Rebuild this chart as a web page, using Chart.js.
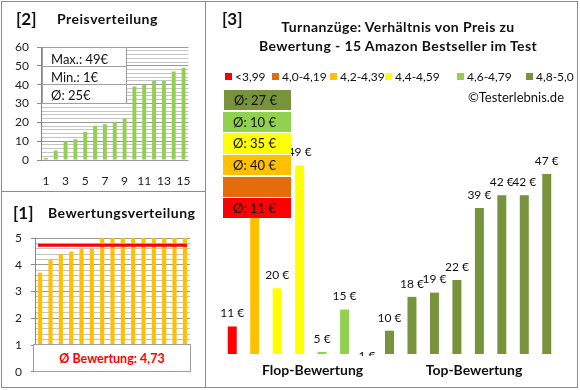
<!DOCTYPE html>
<html><head><meta charset="utf-8">
<script src="https://cdn.jsdelivr.net/npm/chart.js@4/dist/chart.umd.min.js"></script>
<style>
html,body{margin:0;padding:0;background:#fff;width:580px;height:390px;overflow:hidden;font-family:Lato,"Open Sans",sans-serif;color:#111}
.abs{position:absolute}
canvas{position:absolute}
.line{position:absolute;background:#8c8c8c}
.t{position:absolute;white-space:nowrap}
.box{position:absolute;background:#fff;border:1px solid #a0a0a0;box-sizing:border-box}
.avg{position:absolute;box-sizing:border-box;font-size:13px;line-height:1;display:flex;align-items:center;padding-left:10px;color:#111}
.leg{position:absolute;font-size:12px;display:flex;align-items:center;white-space:nowrap}
.leg i{display:inline-block;width:7px;height:7px;margin-right:3px}
.h{font-size:14px;font-weight:700;letter-spacing:0.5px}
</style></head>
<body>
<script>
// ---------- DATA ----------
const priceLabels = ['1','2','3','4','5','6','7','8','9','10','11','12','13','14','15'];
const pricesSorted = [1,5,10,11,15,18,19,20,22,39,40,42,42,47,49];
const ratingsSorted = [3.7,4.2,4.4,4.5,4.6,4.6,5,5,5,5,5,5,5,5,5];
const productPrices = [11,40,20,49,5,15,1,10,18,19,22,39,42,42,47];
const productRatings = [3.7,4.2,4.4,4.5,4.6,4.6,5,5,5,5,5,5,5,5,5];
const classLabels = ['<3,99','4,0-4,19','4,2-4,39','4,4-4,59','4,6-4,79','4,8-5,0'];
const classMins = [0,4.0,4.2,4.4,4.6,4.8];
const classColors = ['#FF0000','#E46C0A','#FFC000','#FFFF00','#92D050','#77933C'];
</script>

<div class="line" style="left:1px;top:1px;width:577px;height:1px"></div>
<div class="line" style="left:1px;top:387px;width:577px;height:1px"></div>
<div class="line" style="left:1px;top:1px;width:1px;height:387px"></div>
<div class="line" style="left:577px;top:1px;width:1px;height:387px"></div>
<div class="line" style="left:205px;top:1px;width:1px;height:387px"></div>
<div class="line" style="left:1px;top:191px;width:205px;height:1px"></div>

<!-- panel 2 -->
<canvas id="c2" width="205" height="191" style="left:0;top:0"></canvas>
<div class="t" style="left:16px;top:8px;font-size:17px;font-weight:700">[2]</div>
<div class="t h" style="left:57px;top:10px">Preisverteilung</div>
<div class="box" style="left:42px;top:47px;width:85px;height:57px"></div>
<div class="abs" style="left:42px;top:66px;width:85px;height:1px;background:#a0a0a0"></div>
<div class="abs" style="left:42px;top:84px;width:85px;height:1px;background:#a0a0a0"></div>
<div class="t" id="sMax" style="left:51px;top:51px;font-size:13px"></div>
<div class="t" id="sMin" style="left:51px;top:69px;font-size:13px"></div>
<div class="t" id="sAvg" style="left:51px;top:87px;font-size:13px"></div>

<!-- panel 1 -->
<canvas id="c1" width="205" height="197" style="left:0;top:191px"></canvas>
<div class="t" style="left:13px;top:202px;font-size:17px;font-weight:700">[1]</div>
<div class="t h" style="left:48px;top:204px">Bewertungsverteilung</div>
<div class="box" style="left:33px;top:344px;width:158px;height:28px"></div>
<div class="t" id="rAvg" style="left:33px;top:351px;width:158px;text-align:center;font-size:12.5px;font-weight:700;color:#FF0000"></div>

<!-- panel 3 -->
<canvas id="c3" width="373" height="388" style="left:205px;top:0"></canvas>
<div class="t" style="left:222px;top:8px;font-size:17px;font-weight:700">[3]</div>
<div class="t" style="left:245px;top:17px;width:306px;text-align:center;font-size:14px;font-weight:700;line-height:19px;letter-spacing:0.4px">Turnanzüge: Verhältnis von Preis zu<br>Bewertung - 15 Amazon Bestseller im Test</div>
<div id="legend"></div>
<div class="t" style="right:16px;top:89px;font-size:13px">©Testerlebnis.de</div>
<div id="avgBoxes"></div>
<div class="t" style="left:262px;top:361px;width:100px;text-align:center;font-size:14px;font-weight:700">Flop-Bewertung</div>
<div class="t" style="left:424px;top:361px;width:100px;text-align:center;font-size:14px;font-weight:700">Top-Bewertung</div>

<script>
Chart.defaults.font.family = 'Lato';
Chart.defaults.color = '#222';
Chart.defaults.animation = false;

const fmt = (v, d) => v.toFixed(d).replace('.', ',');
const maxP = Math.max(...pricesSorted), minP = Math.min(...pricesSorted);
const avgP = pricesSorted.reduce((a,b)=>a+b,0)/pricesSorted.length;
const avgR = ratingsSorted.reduce((a,b)=>a+b,0)/ratingsSorted.length;
document.getElementById('sMax').textContent = 'Max.: ' + maxP + '€';
document.getElementById('sMin').textContent = 'Min.: ' + minP + '€';
document.getElementById('sAvg').textContent = 'Ø: ' + Math.round(avgP) + '€';
document.getElementById('rAvg').textContent = 'Ø Bewertung: ' + fmt(avgR, 2);

const classOf = r => { let c = 0; classMins.forEach((m,i)=>{ if (r >= m - 1e-9) c = i; }); return c; };

// legend
const legX = [225, 272, 330, 385, 457, 526];
const legEl = document.getElementById('legend');
classLabels.forEach((l,i)=>{
  const d = document.createElement('div');
  d.className = 'leg';
  d.style.left = legX[i] + 'px'; d.style.top = '69px';
  d.innerHTML = '<i style="background:'+classColors[i]+'"></i>' + l;
  legEl.appendChild(d);
});

// average boxes (top: best class)
const boxTops = [198,177,155,133,112,90];
const boxEl = document.getElementById('avgBoxes');
for (let c = classLabels.length-1; c >= 0; c--) {
  const vals = productPrices.filter((p,i)=>classOf(productRatings[i])===c);
  const d = document.createElement('div');
  d.className = 'avg';
  d.style.left = (c===5?224:223)+'px'; d.style.width = (c===5?67:68)+'px';
  d.style.top = boxTops[c]+'px'; d.style.height = (c===3?21:20)+'px';
  d.style.background = classColors[c];
  if (vals.length) d.textContent = 'Ø: ' + Math.round(vals.reduce((a,b)=>a+b,0)/vals.length) + ' €';
  boxEl.appendChild(d);
}

const isInt = v => Math.abs(v - Math.round(v)) < 1e-6;

// panel 2
new Chart(document.getElementById('c2'), {
  type:'bar',
  data:{labels:priceLabels, datasets:[{data:pricesSorted, backgroundColor:'#92D050', barPercentage:0.4, categoryPercentage:1}]},
  options:{responsive:false, animation:false,
    layout:{padding:{left:0,right:15,top:47,bottom:0}},
    plugins:{legend:{display:false}, tooltip:{enabled:false}},
    scales:{
      x:{grid:{display:false, drawTicks:false}, border:{display:false},
         ticks:{autoSkip:false, maxRotation:0, padding:14, font:{size:12},
           callback:(v,i)=> i%2===0 ? priceLabels[i] : ''},
         afterFit:s=>{s.height=31;}},
      y:{min:0, max:60, border:{color:'#888'},
         grid:{tickLength:4, color:c=> c.tick && c.tick.value%10===0 ? '#9a9a9a' : '#c4c4c4',
               tickColor:c=> c.tick && c.tick.value%10===0 ? '#888' : 'rgba(0,0,0,0)'},
         ticks:{stepSize:2, autoSkip:false, padding:8, font:{size:12},
           callback:v=> v%10===0 ? v : ''},
         afterFit:s=>{s.width=41;}}
    }}
});

// panel 1
const avgLine = {id:'avgLine', afterDatasetsDraw(chart){
  const y = chart.scales.y.getPixelForValue(avgR), a = chart.chartArea, ctx = chart.ctx;
  ctx.save(); ctx.strokeStyle='#FF0000'; ctx.lineWidth=3;
  ctx.beginPath(); ctx.moveTo(a.left+3, y); ctx.lineTo(a.right-3, y); ctx.stroke(); ctx.restore();
}};
new Chart(document.getElementById('c1'), {
  type:'bar',
  data:{labels:priceLabels, datasets:[{data:ratingsSorted, backgroundColor:'#FFC000', barPercentage:0.4, categoryPercentage:1}]},
  options:{responsive:false, animation:false,
    layout:{padding:{left:0,right:15,top:47,bottom:16}},
    plugins:{legend:{display:false}, tooltip:{enabled:false}},
    scales:{
      x:{display:false},
      y:{min:0, max:5, border:{color:'#888'},
         grid:{tickLength:4, color:c=> c.tick && isInt(c.tick.value) ? '#9a9a9a' : '#c4c4c4',
               tickColor:c=> c.tick && isInt(c.tick.value) ? '#888' : 'rgba(0,0,0,0)'},
         ticks:{stepSize:0.2, autoSkip:false, padding:9, font:{size:12},
           callback:v=> isInt(v) ? Math.round(v) : ''},
         afterFit:s=>{s.width=35;}}
    }},
  plugins:[avgLine]
});

// panel 3
const valLabels = {id:'valLabels', afterDatasetsDraw(chart){
  const ctx = chart.ctx, meta = chart.getDatasetMeta(0), a = chart.chartArea;
  ctx.save();
  ctx.beginPath(); ctx.rect(0, 0, chart.width, a.bottom + 2); ctx.clip();
  ctx.font='12px Lato'; ctx.fillStyle='#111'; ctx.textAlign='center'; ctx.textBaseline='middle';
  meta.data.forEach((el,i)=>{ ctx.fillText(productPrices[i]+' €', el.x, el.y-13); });
  ctx.restore();
}};
new Chart(document.getElementById('c3'), {
  type:'bar',
  data:{labels:priceLabels, datasets:[{data:productPrices,
    backgroundColor:productRatings.map(r=>classColors[classOf(r)]), barPercentage:0.4, categoryPercentage:1}]},
  options:{responsive:false, animation:false,
    layout:{padding:{left:16,right:20,top:119,bottom:34}},
    plugins:{legend:{display:false}, tooltip:{enabled:false}},
    scales:{x:{display:false}, y:{display:false, min:4.5, max:60}}},
  plugins:[valLabels]
});
</script>
</body></html>
